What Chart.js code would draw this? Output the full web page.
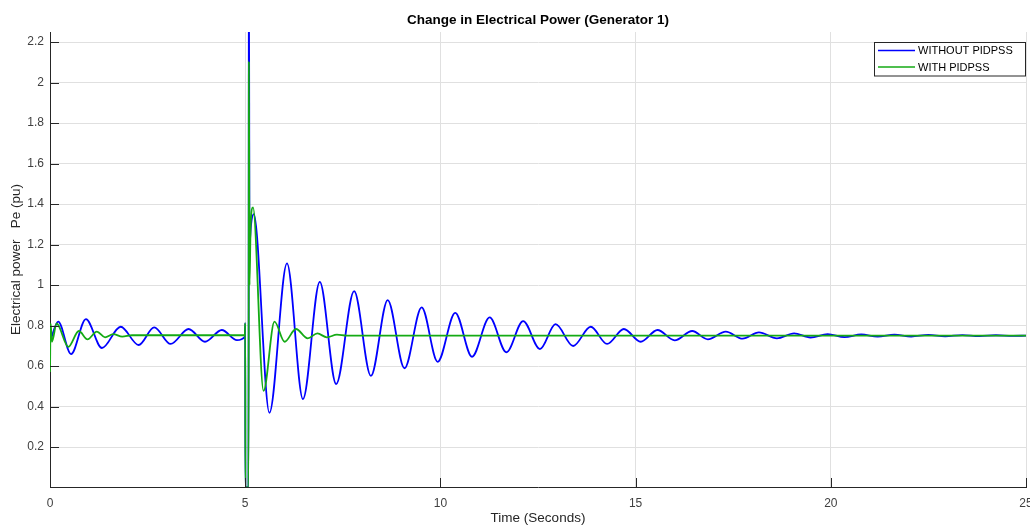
<!DOCTYPE html>
<html><head><meta charset="utf-8">
<script src="https://cdn.jsdelivr.net/npm/chart.js@4/dist/chart.umd.min.js"></script>
<style>html,body{margin:0;padding:0;background:#fff;}#wrap{width:1030px;height:526px;position:relative;}</style>
</head><body><div id="wrap"><canvas id="c" width="1030" height="526"></canvas></div>
<script>
const chartTitle = 'Change in Electrical Power (Generator 1)';
const xLabel = 'Time (Seconds)';
const yLabel = 'Electrical power   Pe (pu)';
const seriesNames = ['WITHOUT PIDPSS', 'WITH PIDPSS'];
const seriesColors = ['#0000ff', 'rgb(20,170,20)'];
const xTicks = [0, 5, 10, 15, 20, 25];
const yTicks = [0.2, 0.4, 0.6, 0.8, 1, 1.2, 1.4, 1.6, 1.8, 2, 2.2];

// WITHOUT PIDPSS (extrema)
const tWithout = [0, 0.21, 0.54, 0.92, 1.33, 1.81, 2.27, 2.67, 3.09, 3.55, 3.97, 4.40, 4.79, 4.99, 5.0, 5.005, 5.085, 5.095, 5.11, 5.15, 5.22, 5.62, 6.07, 6.48, 6.91, 7.33, 7.79, 8.22, 8.65, 9.08, 9.52, 9.93, 10.38, 10.81, 11.26, 11.69, 12.12, 12.55, 12.95, 13.4, 13.85, 14.27, 14.70, 15.13, 15.56, 16.0, 16.45, 16.85, 17.31, 17.74, 18.16, 18.62, 19.06, 19.48, 19.92, 20.35, 20.78, 21.2, 21.63, 22.06, 22.5, 22.93, 23.37, 23.8, 24.23, 24.66, 25];
const peWithout = [0.72, 0.819, 0.659, 0.832, 0.689, 0.794, 0.704, 0.791, 0.709, 0.783, 0.72, 0.778, 0.728, 0.745, 0.812, 0, 0, 2.6, 1.2, 1.3, 1.35, 0.369, 1.107, 0.437, 1.016, 0.511, 0.970, 0.551, 0.926, 0.589, 0.890, 0.621, 0.863, 0.646, 0.840, 0.668, 0.822, 0.684, 0.807, 0.699, 0.794, 0.709, 0.783, 0.720, 0.778, 0.727, 0.773, 0.732, 0.770, 0.735, 0.766, 0.737, 0.761, 0.741, 0.758, 0.743, 0.756, 0.745, 0.755, 0.746, 0.754, 0.747, 0.753, 0.748, 0.752, 0.749, 0.750];

// WITH PIDPSS
const tWith = [0, 0.015, 0.05, 0.17, 0.47, 0.74, 0.96, 1.2, 1.41, 1.62, 1.85, 2.1, 4.99, 5.0, 5.005, 5.085, 5.095, 5.11, 5.14, 5.2, 5.47, 5.75, 6.01, 6.30, 6.6, 6.85, 7.09, 7.35, 7.6, 25];
const peWith = [0.57, 0.81, 0.72, 0.81, 0.695, 0.773, 0.732, 0.77, 0.742, 0.758, 0.745, 0.752, 0.752, 0.812, 0, 0, 2.105, 1.0, 1.3, 1.384, 0.477, 0.819, 0.72, 0.783, 0.737, 0.761, 0.742, 0.755, 0.75, 0.75];

const FONT = "'Liberation Sans', Arial, Helvetica, sans-serif";
const axisColor = '#262626';

const decorPlugin = {
  id: 'decor',
  afterDraw(chart) {
    const ctx = chart.ctx, a = chart.chartArea;
    const xs = chart.scales.x, ys = chart.scales.y;
    ctx.save();
    ctx.strokeStyle = axisColor; ctx.lineWidth = 1;
    ctx.beginPath();
    yTicks.forEach(v => { const p = Math.round(ys.getPixelForValue(v)) + 0.5; ctx.moveTo(a.left, p); ctx.lineTo(a.left + 9, p); });
    xTicks.forEach(v => { const p = Math.round(xs.getPixelForValue(v)) + 0.5; ctx.moveTo(p, a.bottom); ctx.lineTo(p, a.bottom - 9); });
    ctx.stroke();
    ctx.fillStyle = '#000';
    ctx.font = 'bold 13.5px ' + FONT;
    ctx.textAlign = 'center'; ctx.textBaseline = 'middle';
    ctx.fillText(chartTitle, (a.left + a.right) / 2, 20);
    const lx = 874.5, ly = 42.5, lw = 151, lh = 33.5;
    ctx.fillStyle = '#fff'; ctx.fillRect(lx, ly, lw, lh);
    ctx.strokeStyle = '#262626'; ctx.lineWidth = 1; ctx.strokeRect(lx, ly, lw, lh);
    ctx.font = '11px ' + FONT; ctx.textAlign = 'left'; ctx.textBaseline = 'middle';
    const rows = [50.5, 67];
    seriesNames.forEach((n, i) => {
      ctx.strokeStyle = seriesColors[i]; ctx.lineWidth = 1.3;
      ctx.beginPath(); ctx.moveTo(878, rows[i]); ctx.lineTo(915, rows[i]); ctx.stroke();
      ctx.fillStyle = '#000'; ctx.fillText(n, 918, rows[i] + 0.5);
    });
    ctx.restore();
  }
};

const mk = (ts, vs) => ts.map((t, i) => ({ x: t, y: vs[i] }));

new Chart(document.getElementById('c'), {
  type: 'line',
  data: {
    datasets: [
      { label: seriesNames[1], data: mk(tWith, peWith), borderColor: seriesColors[1], borderWidth: 1.8, pointRadius: 0, cubicInterpolationMode: 'monotone', order: 0 },
      { label: seriesNames[0], data: mk(tWithout, peWithout), borderColor: seriesColors[0], borderWidth: 1.8, pointRadius: 0, cubicInterpolationMode: 'monotone', order: 1 }
    ]
  },
  options: {
    responsive: false, animation: false, devicePixelRatio: 1,
    layout: { padding: { top: 32, right: 4, left: 0, bottom: 0 } },
    plugins: { legend: { display: false }, title: { display: false }, tooltip: { enabled: false } },
    scales: {
      x: {
        type: 'linear', min: 0, max: 25,
        afterBuildTicks: s => { s.ticks = xTicks.map(v => ({ value: v })); },
        afterFit: s => { s.height = 39; s.paddingLeft = 0; s.paddingRight = 0; },
        grid: { color: '#e0e0e0', drawTicks: false },
        border: { color: axisColor, width: 1 },
        ticks: { padding: 9, color: '#404040', font: { family: FONT, size: 12 }, maxRotation: 0, autoSkip: false, callback: v => String(v) },
        title: { display: true, text: xLabel, color: '#262626', font: { family: FONT, size: 13.5 }, padding: { top: 0, bottom: 0 } }
      },
      y: {
        type: 'linear', min: 0.0025, max: 2.25,
        afterBuildTicks: s => { s.ticks = yTicks.map(v => ({ value: v })); },
        afterFit: s => { s.width = 50; s.paddingTop = 0; s.paddingBottom = 0; },
        grid: { color: '#e0e0e0', drawTicks: false },
        border: { color: axisColor, width: 1 },
        ticks: { padding: 6, color: '#404040', font: { family: FONT, size: 12 }, autoSkip: false, callback: v => String(v) },
        title: { display: true, text: yLabel, color: '#262626', font: { family: FONT, size: 13.5 }, padding: { top: 8, bottom: 0 } }
      }
    }
  },
  plugins: [decorPlugin]
});
</script></body></html>
